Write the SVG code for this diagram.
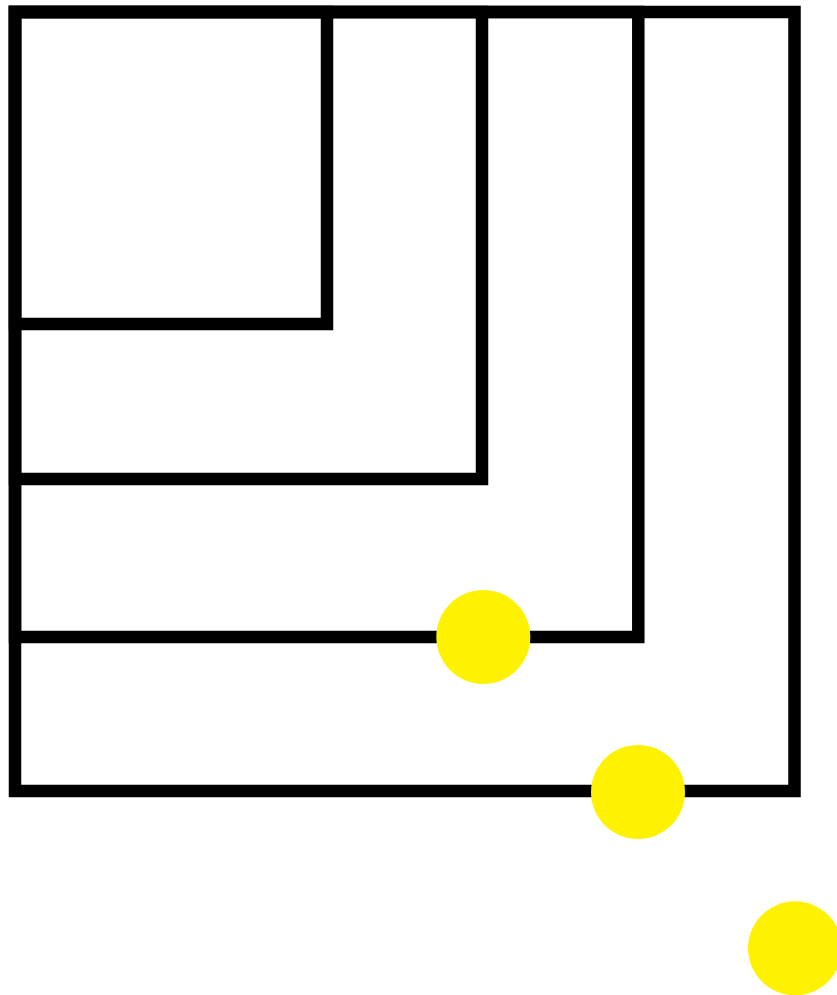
<svg xmlns="http://www.w3.org/2000/svg" width="837" height="995" viewBox="0 0 837 995">
<style>
.sq{fill:none;stroke:#000;stroke-width:12.5}
.dot{fill:#fff200}
</style>
<rect width="837" height="995" fill="#fff"/>
<g id="squares">
<rect id="sq4" class="sq" x="15" y="12" width="779.5" height="779"/>
<rect id="sq3" class="sq" x="15" y="12" width="623.3" height="625"/>
<rect id="sq2" class="sq" x="15" y="12" width="467" height="467"/>
<rect id="sq1" class="sq" x="15" y="12" width="312" height="312"/>
</g>
<g id="dots">
<circle id="dot1" class="dot" cx="483.3" cy="637" r="47"/>
<circle id="dot2" class="dot" cx="638" cy="792" r="47"/>
<circle id="dot3" class="dot" cx="795" cy="948.3" r="47"/>
</g>
</svg>
